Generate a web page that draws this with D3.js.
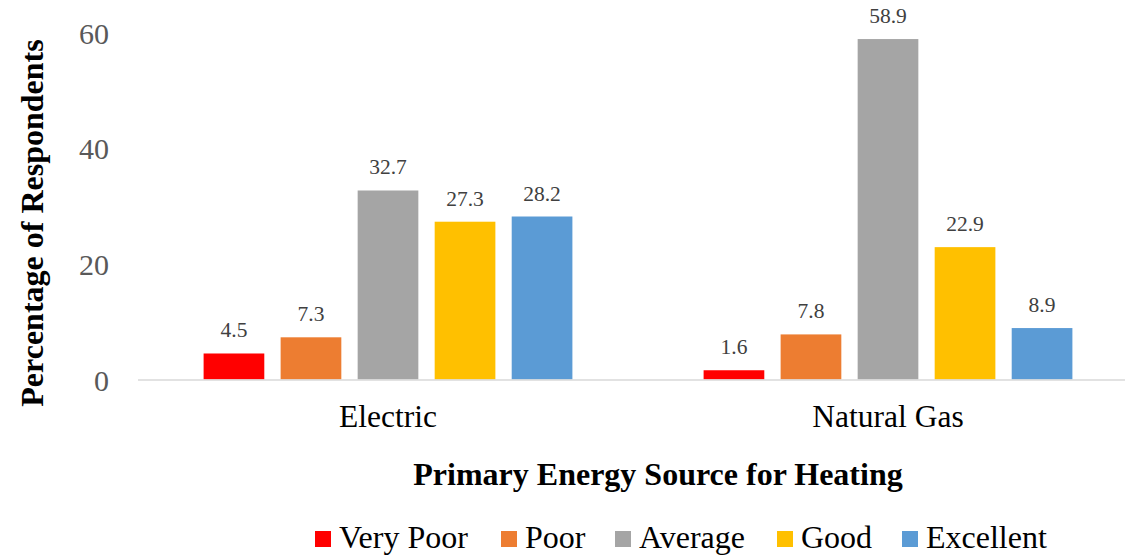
<!DOCTYPE html>
<html>
<head>
<meta charset="utf-8">
<script src="https://cdn.jsdelivr.net/npm/d3@7"></script>
<style>
  html, body { margin: 0; padding: 0; background: #ffffff; }
  svg { display: block; font-family: "Liberation Serif", "Times New Roman", serif; }
</style>
</head>
<body>
<svg id="chart" width="1125" height="556"></svg>
<script>
const categories = ["Electric", "Natural Gas"];
const seriesNames = ["Very Poor", "Poor", "Average", "Good", "Excellent"];
const seriesColors = ["#FF0000", "#ED7D31", "#A5A5A5", "#FFC000", "#5B9BD5"];
const electricValues = [4.5, 7.3, 32.7, 27.3, 28.2];
const naturalGasValues = [1.6, 7.8, 58.9, 22.9, 8.9];
const yTicks = [0, 20, 40, 60];
const yTitle = "Percentage of Respondents";
const xTitle = "Primary Energy Source for Heating";

const valuesByCategory = [electricValues, naturalGasValues];
const FONT = "'Liberation Serif', 'Times New Roman', serif";

const svg = d3.select("#chart");
const plotLeft = 138, plotRight = 1138, plotTop = 32.7, plotBottom = 379.5;

const x0 = d3.scaleBand().domain(categories).range([plotLeft, plotRight]).padding(0);
const bw = x0.bandwidth();
const x1 = d3.scaleBand().domain(seriesNames)
  .range([bw * 0.1312, bw * (1 - 0.1312)])
  .paddingInner(0.212).paddingOuter(0);
const y = d3.scaleLinear().domain([0, 60]).range([plotBottom, plotTop]);
const color = d3.scaleOrdinal().domain(seriesNames).range(seriesColors);

// bars
const groups = svg.append("g").selectAll("g")
  .data(categories).join("g")
  .attr("transform", d => `translate(${x0(d)},0)`);

groups.selectAll("rect")
  .data((c, i) => seriesNames.map((s, j) => ({ s, v: valuesByCategory[i][j] })))
  .join("rect")
  .attr("x", d => x1(d.s))
  .attr("width", x1.bandwidth())
  .attr("y", d => y(d.v))
  .attr("height", d => y(0) - y(d.v))
  .attr("fill", d => color(d.s));

groups.selectAll("text.lbl")
  .data((c, i) => seriesNames.map((s, j) => ({ s, v: valuesByCategory[i][j] })))
  .join("text")
  .attr("class", "lbl")
  .attr("x", d => x1(d.s) + x1.bandwidth() / 2)
  .attr("y", d => y(d.v) - 16)
  .attr("text-anchor", "middle")
  .attr("font-family", FONT)
  .attr("font-size", "21.5px")
  .attr("fill", "#404040")
  .text(d => d.v.toFixed(1));

// x axis line
svg.append("line")
  .attr("x1", plotLeft).attr("x2", 1125)
  .attr("y1", y(0) + 0.5).attr("y2", y(0) + 0.5)
  .attr("stroke", "#D9D9D9").attr("stroke-width", 1.6);

// x axis category labels
const xAxis = d3.axisBottom(x0).tickSize(0).tickPadding(0);
const xg = svg.append("g").attr("transform", `translate(0,${plotBottom})`).call(xAxis);
xg.attr("font-family", FONT);
xg.select(".domain").remove();
xg.selectAll("text")
  .attr("dy", null)
  .attr("y", 47.8)
  .attr("font-family", FONT)
  .attr("font-size", "31.5px")
  .attr("fill", "#000000");

// y axis tick labels
const yAxis = d3.axisLeft(y).tickValues(yTicks).tickSize(0).tickPadding(0);
const yg = svg.append("g").attr("transform", `translate(109,0)`).call(yAxis);
yg.attr("font-family", FONT);
yg.select(".domain").remove();
yg.selectAll("text")
  .attr("x", 0)
  .attr("dy", "0.35em")
  .attr("font-family", FONT)
  .attr("font-size", "30px")
  .attr("fill", "#595959");

// axis titles
svg.append("text")
  .attr("transform", "translate(43,223) rotate(-90)")
  .attr("text-anchor", "middle")
  .attr("font-family", FONT)
  .attr("font-size", "32px")
  .attr("font-weight", "bold")
  .attr("fill", "#000000")
  .text(yTitle);

svg.append("text")
  .attr("x", 658).attr("y", 485)
  .attr("text-anchor", "middle")
  .attr("font-family", FONT)
  .attr("font-size", "32px")
  .attr("font-weight", "bold")
  .attr("fill", "#000000")
  .text(xTitle);

// legend
const legendX = [315, 501, 615, 777, 902];
const legend = svg.append("g");
const items = legend.selectAll("g").data(seriesNames).join("g")
  .attr("transform", (d, i) => `translate(${legendX[i]},531)`);
items.append("rect")
  .attr("width", 16).attr("height", 16)
  .attr("fill", d => color(d));
items.append("text")
  .attr("x", 24).attr("y", 17)
  .attr("font-family", FONT)
  .attr("font-size", "32px")
  .attr("fill", "#000000")
  .text(d => d);
</script>
</body>
</html>
